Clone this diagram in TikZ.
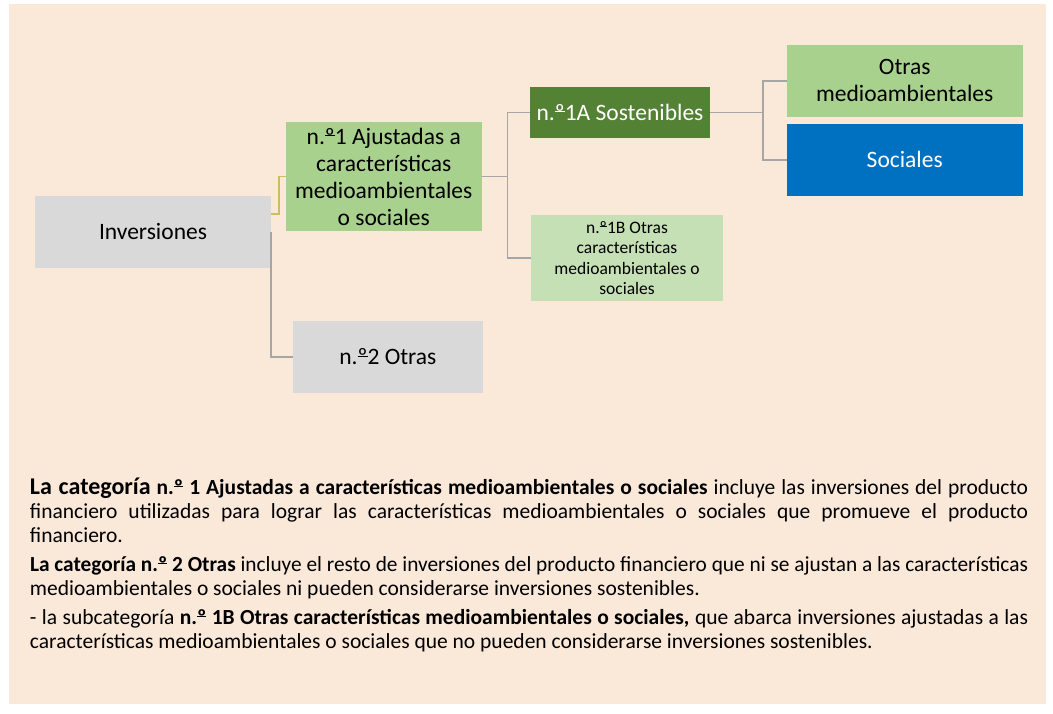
\documentclass[tikz,border=0pt]{standalone}
\usepackage{fontspec}
\setmainfont{Carlito}
\usepackage{graphicx}
\usetikzlibrary{calc}
\definecolor{peach}{RGB}{250,232,217}
\definecolor{boxgray}{RGB}{217,217,217}
\definecolor{midgreen}{RGB}{169,209,142}
\definecolor{darkgreen}{RGB}{84,130,53}
\definecolor{lightgreen}{RGB}{197,224,180}
\definecolor{officeblue}{RGB}{0,112,192}
\definecolor{conngray}{RGB}{166,166,166}
\definecolor{connyellow}{RGB}{200,190,100}
\newlength\tw
\setlength\tw{998pt}
\newsavebox\jbox
\newsavebox\ordbox
\newcommand\jline[1]{\sbox\jbox{#1}\ifdim\wd\jbox>\tw\resizebox{\tw}{\height}{\usebox\jbox}\else\makebox[\tw][s]{#1}\fi}
\newcommand\ordm{\sbox\ordbox{º}\usebox\ordbox\hspace{-\wd\ordbox}\rule[0.34em]{\wd\ordbox}{0.05em}}
\newcommand\boxfont{\fontsize{23.5}{27}\selectfont}
\newcommand\smallboxfont{\fontsize{17.5}{20.5}\selectfont}
\newcommand\bodyfont{\fontsize{21.5}{24}\selectfont}
\begin{document}
\begin{tikzpicture}[x=1pt,y=-1pt,
  sabox/.style={inner sep=0pt, outer sep=0pt, anchor=north west, align=center, font=\boxfont, text=black},
  conn/.style={draw=conngray, line width=1.5pt},
  textline/.style={anchor=base west, inner sep=0pt, outer sep=0pt, font=\bodyfont, text=black}]
\useasboundingbox (0,0) rectangle (1053,713);
\fill[white] (0,0) rectangle (1053,713);
\fill[peach] (9,4) rectangle (1046,704);

% boxes
\node[sabox, fill=boxgray, minimum width=236pt, minimum height=71.5pt] (inv) at (35,196) {Inversiones};
\node[sabox, fill=midgreen, minimum width=195.5pt, minimum height=108.4pt] (n1) at (286,122.3)
  {n.\ordm1 Ajustadas a\\características\\medioambientales\\o sociales};
\node[sabox, fill=darkgreen, text=white, minimum width=180pt, minimum height=50.7pt] (s1a) at (530,87) {n.\ordm1A Sostenibles};
\node[sabox, fill=lightgreen, font=\smallboxfont, minimum width=192pt, minimum height=85.5pt] (s1b) at (531,215.3)
  {n.\ordm1B Otras\\características\\medioambientales o\\sociales};
\node[sabox, fill=midgreen, minimum width=235.5pt, minimum height=71.7pt] (otras) at (787,45) {Otras\\medioambientales};
\node[sabox, fill=officeblue, text=white, minimum width=235.5pt, minimum height=71.7pt] (soc) at (787,124) {Sociales};
\node[sabox, fill=boxgray, minimum width=189.7pt, minimum height=71.7pt] (n2) at (293,321) {n.\ordm2 Otras};

% connectors
\draw[draw=connyellow, line width=1.5pt] ($(inv.north east)+(0,18)$) -- ++(8,0) |- (n1.west);
\draw[conn] (inv.east) |- (n2.west);
\draw[conn] (n1.east) -- ++(26,0) coordinate (j1) |- (s1a.west);
\draw[conn] (j1) |- (s1b.west);
\draw[conn] (s1a.east) -- ++(53,0) coordinate (j2) |- (otras.west);
\draw[conn] (j2) |- (soc.west);

% text block
\node[textline] (l1) at (30,494) {\jline{\textbf{{\fontsize{24}{24}\selectfont La categoría} n.\ordm\ 1 Ajustadas a características medioambientales o sociales} incluye las inversiones del producto}};
\node[textline] (l2) at (30,518) {\jline{financiero utilizadas para lograr las características medioambientales o sociales que promueve el producto}};
\node[textline] (l3) at (30,542) {financiero.};
\node[textline] (l4) at (30,571) {\jline{\textbf{La categoría n.\ordm\ 2 Otras} incluye el resto de inversiones del producto financiero que ni se ajustan a las características}};
\node[textline] (l5) at (30,595) {medioambientales o sociales ni pueden considerarse inversiones sostenibles.};
\node[textline] (l6) at (30,624) {\jline{- la subcategoría \textbf{n.\ordm\ 1B Otras características medioambientales o sociales,} que abarca inversiones ajustadas a las}};
\node[textline] (l7) at (30,648) {características medioambientales o sociales que no pueden considerarse inversiones sostenibles.};
\end{tikzpicture}
\end{document}
